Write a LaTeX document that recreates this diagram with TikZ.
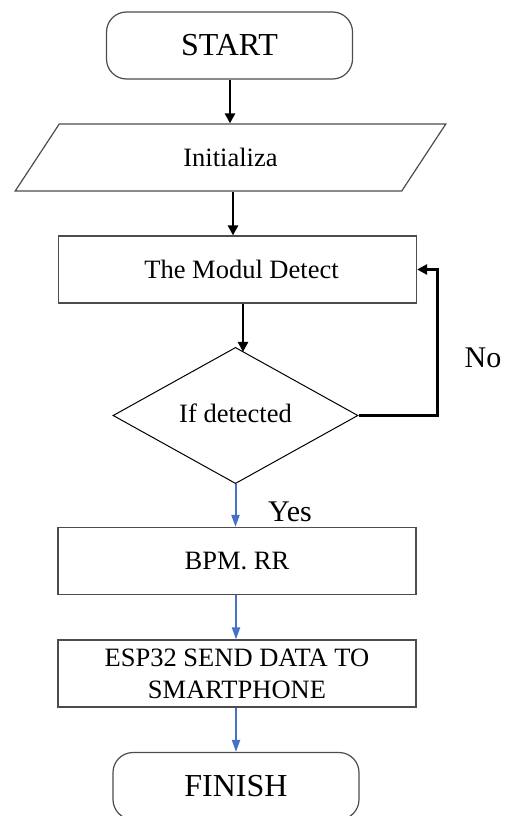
\documentclass[tikz,border=0pt]{standalone}
\usepackage{fontspec}
\setmainfont{Liberation Serif}
\usetikzlibrary{shapes.geometric, arrows.meta}
\definecolor{arrowblue}{RGB}{68,114,196}

\begin{document}
\begin{tikzpicture}[x=1pt, y=-1pt,
    box/.style={draw=black!70, line width=1.2pt, minimum width=358pt, minimum height=67pt,
      inner sep=0pt, align=center, font=\fontsize{26.5}{32}\selectfont},
    term/.style={box, rounded corners=20pt, minimum width=246pt, font=\fontsize{32}{38}\selectfont},
    blk/.style={-{Triangle[length=10pt,width=10pt]}, line width=2.5pt},
    blu/.style={-{Triangle[length=12pt,width=8pt]}, line width=2pt, draw=arrowblue},
    lbl/.style={font=\fontsize{30}{36}\selectfont}]
  \path[use as bounding box, clip] (0,0) rectangle (516,816);

  \node[term] (start) at (229.5,45.5) {START};
  \node[box, trapezium, trapezium left angle=57, trapezium right angle=123,
    trapezium stretches=true, minimum width=431pt] (init) at (230.5,157.5) {Initializa};
  \node[box] (modul) at (237.5,269.5) {\hspace*{8pt}The Modul Detect};
  \node[draw, diamond, line width=1pt, minimum width=245pt, minimum height=135pt,
    inner sep=0pt, font=\fontsize{26.5}{32}\selectfont] (cond) at (235.5,415.5) {\raisebox{5pt}{If detected}};
  \node[box] (bpm) at (237,561) {BPM. RR};
  \node[box] (esp) at (237,673.5) {ESP32 SEND DATA TO\\SMARTPHONE};
  \node[term] (finish) at (236,786) {FINISH};

  % black arrows
  \draw[blk] ([xshift=0.5pt]start.south) -- ([xshift=0.5pt]start.south |- init.north);
  \draw[blk] ([xshift=2.5pt]init.south) -- ([xshift=2.5pt]init.south |- modul.north);
  \draw[blk] ([xshift=5.5pt]modul.south) -- ([xshift=7.5pt,yshift=-5pt]cond.north);
  % loop back when nothing is detected
  \draw[blk] (cond.east) -- ++(79,0) |- (modul.east);
  \node[lbl] (no) at (483,358) {No};

  % blue arrows
  \draw[blu] (cond.south) -- (cond.south |- bpm.north);
  \node[lbl] (yes) at (290,512) {Yes};
  \draw[blu] ([xshift=-1pt]bpm.south) -- ([xshift=-1pt]esp.north);
  \draw[blu] ([xshift=-1pt]esp.south) -- ([xshift=-1pt]esp.south |- finish.north);
\end{tikzpicture}
\end{document}
